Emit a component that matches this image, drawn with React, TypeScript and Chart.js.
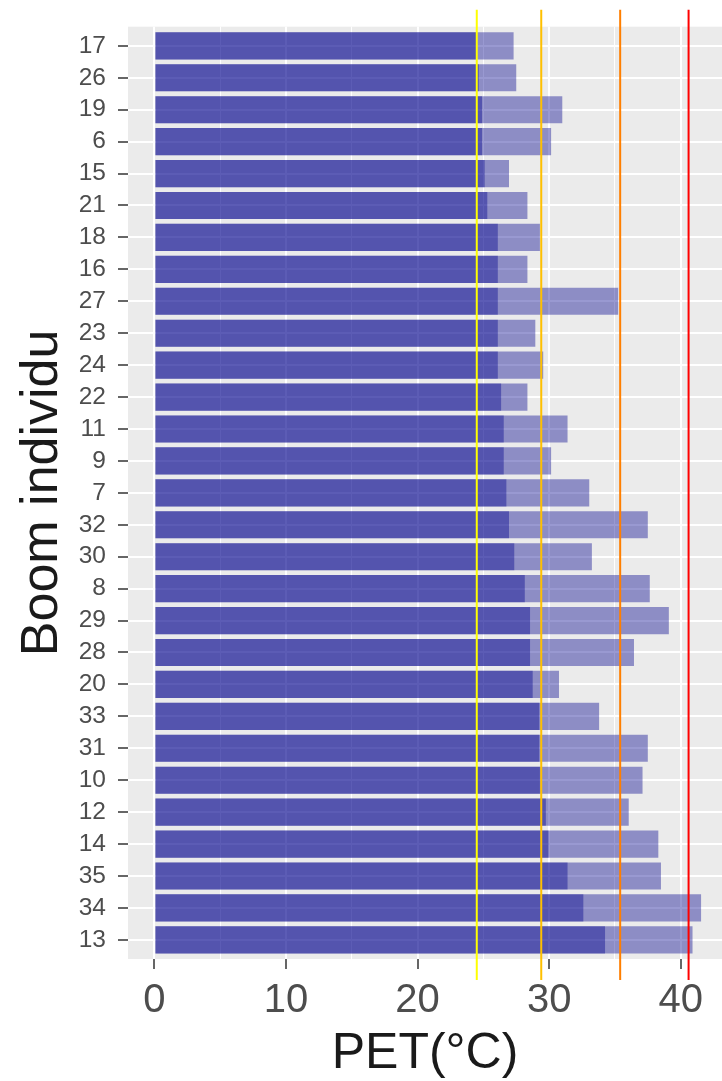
import React, { useEffect, useRef } from "react";
import { Chart, registerables } from "chart.js";

Chart.register(...registerables);

// Tree IDs, top to bottom
const trees = ["17", "26", "19", "6", "15", "21", "18", "16", "27", "23", "24", "22", "11", "9", "7", "32", "30", "8", "29", "28", "20", "33", "31", "10", "12", "14", "35", "34", "13"];
// PET (°C) – lower value (dark part)
const petLow = [24.5, 24.65, 24.9, 24.9, 25.1, 25.3, 26.1, 26.1, 26.1, 26.1, 26.1, 26.35, 26.55, 26.55, 26.75, 26.95, 27.35, 28.15, 28.55, 28.55, 28.75, 29.25, 29.25, 29.3, 29.75, 29.95, 31.4, 32.6, 34.25];
// PET (°C) – upper value (light part)
const petHigh = [27.3, 27.5, 31.0, 30.15, 26.95, 28.35, 29.3, 28.35, 35.25, 28.95, 29.55, 28.35, 31.4, 30.15, 33.05, 37.5, 33.25, 37.65, 39.1, 36.45, 30.75, 33.8, 37.5, 37.1, 36.05, 38.3, 38.5, 41.55, 40.9];
// Threshold lines
const thresholds = [24.5, 29.4, 35.4, 40.6];
const thresholdColors = ["#FFFF00", "#FFC000", "#FF7F00", "#FF0000"];
const xTickValues = [0, 5, 10, 15, 20, 25, 30, 35, 40];

const FONT = "'Liberation Sans', Arial, Helvetica, sans-serif";

export default function App() {
  const ref = useRef<HTMLCanvasElement | null>(null);

  useEffect(() => {
    document.body.style.margin = "0";
    const canvas = ref.current!;
    const panelPlugin = {
      id: "panel",
      beforeDraw(chart: any) {
        const { ctx, chartArea } = chart;
        ctx.save();
        ctx.fillStyle = "#EBEBEB";
        ctx.fillRect(chartArea.left, chartArea.top, chartArea.right - chartArea.left, chartArea.bottom - chartArea.top);
        ctx.restore();
      },
      afterDatasetsDraw(chart: any) {
        const { ctx, chartArea } = chart;
        const xs = chart.scales.x;
        ctx.save();
        thresholds.forEach((t, i) => {
          const px = xs.getPixelForValue(t);
          ctx.beginPath();
          ctx.strokeStyle = thresholdColors[i];
          ctx.lineWidth = 2;
          ctx.moveTo(px, chartArea.top - 17);
          ctx.lineTo(px, chartArea.bottom + 21);
          ctx.stroke();
        });
        ctx.restore();
      },
    };

    const chart = new Chart(canvas, {
      type: "bar",
      data: {
        datasets: [
          {
            label: "high",
            data: petHigh.map((v, i) => ({ x: v, y: i + 1 })),
            backgroundColor: "rgba(0,0,139,0.4)",
            grouped: false,
            categoryPercentage: 1,
            barPercentage: 0.85,
            borderWidth: 0,
          } as any,
          {
            label: "low",
            data: petLow.map((v, i) => ({ x: v, y: i + 1 })),
            backgroundColor: "rgba(0,0,139,0.4)",
            grouped: false,
            categoryPercentage: 1,
            barPercentage: 0.85,
            borderWidth: 0,
          } as any,
        ],
      },
      options: {
        indexAxis: "y",
        animation: false,
        responsive: false,
        devicePixelRatio: 1,
        layout: { padding: { top: 24, right: 0, left: 0, bottom: 0 } },
        plugins: { legend: { display: false }, tooltip: { enabled: false } },
        scales: {
          x: {
            type: "linear",
            position: "bottom",
            min: -2.01,
            max: 43.14,
            offset: false,
            afterBuildTicks: (axis: any) => {
              axis.ticks = xTickValues.map((v) => ({ value: v }));
            },
            afterFit: (axis: any) => {
              axis.height = 122;
            },
            border: { display: false },
            grid: {
              offset: false,
              color: "#FFFFFF",
              lineWidth: (c: any) => (c.tick && c.tick.value % 10 === 0 ? 2 : 1),
              drawTicks: true,
              tickLength: 10,
              tickWidth: 1.5,
              tickColor: (c: any) => (c.tick && c.tick.value % 10 === 0 ? "#333333" : "rgba(0,0,0,0)"),
            },
            ticks: {
              autoSkip: false,
              maxRotation: 0,
              padding: 8,
              color: "#4D4D4D",
              font: { family: FONT, size: 40, lineHeight: 1.2 },
              callback: (v: any) => (Number(v) % 10 === 0 ? String(v) : ""),
            },
            title: {
              display: true,
              text: "PET(°C)",
              color: "#1A1A1A",
              font: { family: FONT, size: 50, lineHeight: 1 },
              padding: { top: 0, bottom: 1.5 },
            },
          },
          y: {
            type: "linear",
            reverse: true,
            min: 0.4,
            max: 29.6,
            offset: false,
            afterBuildTicks: (axis: any) => {
              axis.ticks = trees.map((_, i) => ({ value: i + 1 }));
            },
            afterFit: (axis: any) => {
              axis.width = 128;
            },
            border: { display: false },
            grid: {
              offset: false,
              color: "#FFFFFF",
              lineWidth: 2,
              drawTicks: true,
              tickLength: 10,
              tickWidth: 1.5,
              tickColor: "#333333",
            },
            ticks: {
              autoSkip: false,
              padding: 12,
              color: "#4D4D4D",
              font: { family: FONT, size: 24.5, lineHeight: 1.2 },
              callback: (v: any) => trees[Math.round(Number(v)) - 1] ?? "",
            },
            title: {
              display: true,
              text: "Boom individu",
              color: "#1A1A1A",
              font: { family: FONT, size: 52, lineHeight: 1.2 },
              padding: { top: 11, bottom: 0 },
            },
          },
        },
      },
      plugins: [panelPlugin],
    } as any);
    return () => chart.destroy();
  }, []);

  return <canvas ref={ref} width={722} height={1081} style={{ display: "block" }} />;
}
